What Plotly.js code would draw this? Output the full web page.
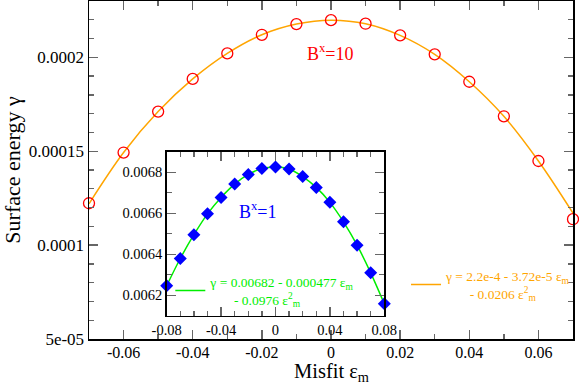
<!DOCTYPE html>
<html>
<head>
<meta charset="utf-8">
<script src="https://cdn.plot.ly/plotly-3.0.1.min.js"></script>
<style>
body{margin:0;padding:0;background:#fff}
#plot{width:579px;height:388px}
</style>
</head>
<body>
<div id="plot"></div>
<script>
// main curve, B^x = 10
var misfit = [-0.07,-0.06,-0.05,-0.04,-0.03,-0.02,-0.01,0,0.01,0.02,0.03,0.04,0.05,0.06,0.07];
var gamma10 = [1.223e-4,1.493e-4,1.711e-4,1.885e-4,2.021e-4,2.120e-4,2.177e-4,2.198e-4,2.179e-4,2.117e-4,2.016e-4,1.870e-4,1.686e-4,1.448e-4,1.138e-4];
var fit10 = [1.220e-4,1.493e-4,1.711e-4,1.885e-4,2.021e-4,2.120e-4,2.177e-4,2.198e-4,2.179e-4,2.117e-4,2.016e-4,1.870e-4,1.686e-4,1.448e-4,1.170e-4];

// inset, B^x = 1
var misfitIn = [-0.08,-0.07,-0.06,-0.05,-0.04,-0.03,-0.02,-0.01,0,0.01,0.02,0.03,0.04,0.05,0.06,0.07,0.08];
var gamma1 = [0.006246,0.006379,0.006495,0.006597,0.006677,0.006742,0.006789,0.006818,0.006826,0.006816,0.006779,0.006726,0.006653,0.006558,0.006444,0.006309,0.006158];

// tick labels
var xTickVals = [-0.06,-0.04,-0.02,0,0.02,0.04,0.06];
var xTickText = ['-0.06','-0.04','-0.02','0','0.02','0.04','0.06'];
var yTickVals = [5e-5,1e-4,1.5e-4,2e-4];
var yTickText = ['5e-05','0.0001','0.00015','0.0002'];
var x2TickVals = [-0.08,-0.04,0,0.04,0.08];
var x2TickText = ['-0.08','-0.04','0','0.04','0.08'];
var y2TickVals = [0.0062,0.0064,0.0066,0.0068];
var y2TickText = ['0.0062','0.0064','0.0066','0.0068'];

var serif = 'Liberation Serif';
var nb = '\u00a0';

var traces = [
    {x:misfit, y:fit10, mode:'lines', line:{color:'#ffa500', width:1.5, shape:'spline'},
     name:'γ = 2.2e-4 - 3.72e-5 ε<sub>m</sub><br>'+nb.repeat(7)+'- 0.0206 ε<sup>2</sup><sub>m</sub>',
     legend:'legend', showlegend:true, xaxis:'x', yaxis:'y'},
    {x:misfit, y:gamma10, mode:'markers', cliponaxis:false,
     marker:{symbol:'circle-open', size:11, color:'#ff0000', line:{width:1.3}},
     showlegend:false, xaxis:'x', yaxis:'y'},
    {x:misfitIn, y:gamma1, mode:'lines', line:{color:'#00ee00', width:1.5, shape:'spline'},
     name:'γ = 0.00682 - 0.000477 ε<sub>m</sub><br>'+nb.repeat(7)+'- 0.0976 ε<sup>2</sup><sub>m</sub>',
     legend:'legend2', showlegend:true, xaxis:'x2', yaxis:'y2'},
    {x:misfitIn, y:gamma1, mode:'markers', cliponaxis:false,
     marker:{symbol:'diamond', size:10, color:'#0000ff'},
     showlegend:false, xaxis:'x2', yaxis:'y2'}
];

function axis(range, vals, text, minorStep, fsize) {
    return {range:range, tickmode:'array', tickvals:vals, ticktext:text,
        ticks:'inside', ticklen:9, tickwidth:1.3, tickcolor:'#666',
        minor:{tickmode:'linear', tick0:0, dtick:minorStep, ticks:'inside', ticklen:5, tickwidth:1.3, tickcolor:'#666'},
        showline:true, linecolor:'#000', linewidth:1.5, mirror:'allticks',
        showgrid:false, zeroline:false,
        tickfont:{family:serif, size:fsize, color:'#000'}};
}

var xa = axis([-0.07,0.07], xTickVals, xTickText, 0.01, 16);
xa.ticklabelstandoff = -2;
xa.domain = [0,1];
var ya = axis([5e-5,2.3e-4], yTickVals, yTickText, 1e-5, 17);
ya.title = {text:'Surface energy γ', font:{family:serif, size:22, color:'#000'}, standoff:6};
ya.domain = [0,1];

var x2 = axis([-0.08,0.08], x2TickVals, x2TickText, 0.01, 14.5);
x2.domain = [0.1605,0.6101];
x2.anchor = 'y2';
var y2 = axis([0.0061,0.0069], y2TickVals, y2TickText, 0.0001, 14.5);
y2.domain = [0.0689,0.5541];
y2.anchor = 'x2';

var layout = {
    width:579, height:388,
    margin:{l:89, r:6, t:1, b:49},
    paper_bgcolor:'#fff', plot_bgcolor:'#fff',
    font:{family:serif},
    xaxis:xa, yaxis:ya, xaxis2:x2, yaxis2:y2,
    legend:{x:0.655, y:0.16, xanchor:'left', yanchor:'middle', bgcolor:'rgba(0,0,0,0)',
            font:{family:serif, size:13.5, color:'#ffa500'}},
    legend2:{x:0.168, y:0.142, xanchor:'left', yanchor:'middle', bgcolor:'rgba(0,0,0,0)',
            font:{family:serif, size:13.5, color:'#00ee00'}},
    annotations:[
        // x axis title, placed by hand to sit close under the tick labels
        {x:0.5, y:-0.1, xref:'paper', yref:'paper', xanchor:'center', yanchor:'middle',
         text:'Misfit ε<sub>m</sub>', showarrow:false, font:{family:serif, size:20.5, color:'#000'}},
        {x:-0.0075, y:2.028e-4, xref:'x', yref:'y', xanchor:'left', text:'B<sup>x</sup>=10', showarrow:false,
         font:{family:serif, size:18, color:'#ff0000'}},
        {x:-0.0283, y:0.006613, xref:'x2', yref:'y2', xanchor:'left', text:'B<sup>x</sup>=1', showarrow:false,
         font:{family:serif, size:18, color:'#0000ff'}}
    ],
    showlegend:true
};

Plotly.newPlot('plot', traces, layout, {displayModeBar:false, staticPlot:true});
</script>
</body>
</html>
